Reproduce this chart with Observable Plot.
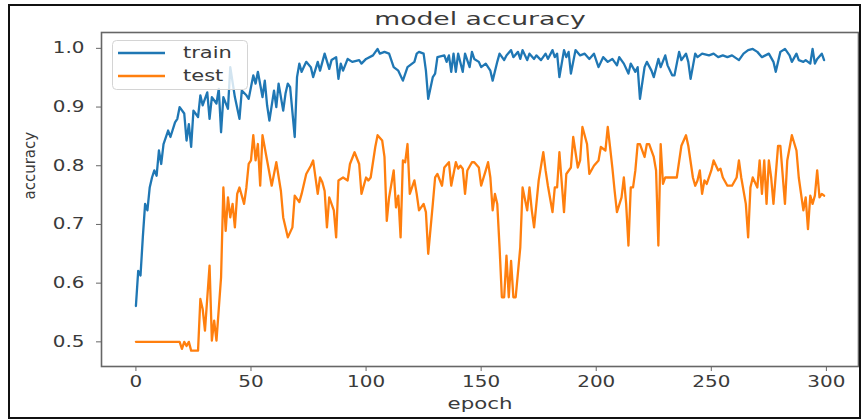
<!DOCTYPE html>
<html>
<head>
<meta charset="utf-8">
<script src="https://cdn.jsdelivr.net/npm/d3@7"></script>
<script src="https://cdn.jsdelivr.net/npm/@observablehq/plot@0.6"></script>
<style>
  html, body { margin: 0; padding: 0; background: #fff; }
  #wrap { position: relative; width: 861px; height: 419px; overflow: hidden; }
  #border { position: absolute; left: 8px; top: 4px; width: 849px; height: 411px; border: 2px solid #111; pointer-events: none; }
  #legend { position: absolute; left: 0; top: 0; pointer-events: none; }
</style>
</head>
<body>
<div id="wrap"><div id="border"></div></div>
<script>
const title = "model accuracy";
const xLabel = "epoch";
const yLabel = "accuracy";
const seriesNames = ["train", "test"];
const seriesColors = ["#1f77b4", "#ff7f0e"];
const xTicks = [0, 50, 100, 150, 200, 250, 300];
const yTicks = [0.5, 0.6, 0.7, 0.8, 0.9, 1.0];

const trainEpochs = [0,1,2,3,4,5,6,7,8,9,10,11,12,14,15,17,18,19,21,22,23,24,25,27,28,29,31,32,33,35,36,37,38,40,41,43,45,46,48,49,51,52,53,55,56,57,58,60,61,62,64,65,66,67,69,70,71,72,74,76,77,79,80,82,84,85,87,88,89,90,92,94,97,98,100,103,105,106,108,110,112,114,116,118,119,121,122,123,125,126,127,129,130,131,134,135,136,137,138,139,140,142,143,145,146,147,149,150,152,154,155,157,158,160,161,163,164,166,167,168,170,171,173,174,176,178,179,181,182,183,184,186,187,188,189,191,193,195,197,199,201,203,205,207,209,210,212,214,215,217,218,219,221,222,224,225,227,228,230,231,233,234,236,237,239,240,241,243,244,246,249,251,253,255,257,259,262,264,266,268,270,272,275,277,278,280,282,284,285,287,288,290,291,293,294,295,296,298,299];
const trainAcc = [0.561,0.621,0.613,0.678,0.735,0.724,0.763,0.780,0.792,0.783,0.826,0.803,0.837,0.860,0.849,0.874,0.880,0.900,0.889,0.843,0.871,0.832,0.894,0.883,0.920,0.903,0.925,0.880,0.917,0.906,0.931,0.857,0.917,0.897,0.968,0.917,0.880,0.928,0.920,0.914,0.954,0.940,0.960,0.917,0.945,0.903,0.877,0.928,0.900,0.940,0.894,0.923,0.940,0.934,0.849,0.951,0.974,0.960,0.977,0.968,0.951,0.977,0.962,0.991,0.965,0.980,0.985,0.948,0.974,0.962,0.982,0.977,0.980,0.974,0.982,0.988,0.999,0.991,0.994,0.991,0.968,0.962,0.945,0.968,0.971,0.977,0.991,0.994,0.991,0.962,0.914,0.951,0.957,0.985,0.988,0.977,0.988,0.960,0.991,0.960,0.991,0.960,0.991,0.968,0.994,0.982,0.977,0.968,0.974,0.962,0.945,0.977,0.991,0.980,0.988,0.997,0.985,0.994,0.982,0.997,0.980,0.991,0.982,0.988,0.980,0.991,0.982,0.997,0.985,0.991,0.951,0.997,0.985,0.994,0.957,0.997,0.988,0.991,0.982,0.991,0.968,0.985,0.977,0.982,0.971,0.985,0.974,0.957,0.974,0.960,0.968,0.914,0.968,0.977,0.962,0.951,0.982,0.968,0.988,0.971,0.954,0.954,0.994,0.980,0.991,0.977,0.948,0.991,0.985,0.991,0.988,0.991,0.985,0.988,0.985,0.988,0.980,0.991,0.997,0.999,0.994,0.985,0.991,0.977,0.960,0.994,0.999,0.988,0.977,0.991,0.980,0.977,0.980,0.974,0.999,0.974,0.982,0.991,0.980];

const testEpochs = [0,19,20,21,22,23,24,27,28,29,30,32,33,34,35,37,38,39,40,41,42,43,44,45,47,48,49,50,51,52,53,54,55,57,59,61,63,64,66,68,69,71,72,74,76,77,79,80,81,82,83,84,86,87,88,90,92,93,95,97,98,100,101,102,104,105,107,108,109,110,112,113,114,115,116,117,118,119,121,122,123,125,126,127,129,130,131,133,134,136,137,139,140,141,142,143,144,146,147,149,150,152,153,154,155,156,157,158,159,160,161,162,163,164,165,167,168,170,171,172,173,175,177,178,179,181,182,183,184,186,187,189,190,192,193,194,196,197,199,201,202,204,205,206,207,208,209,211,212,213,214,215,216,217,218,219,221,222,223,225,226,227,228,229,230,233,235,237,239,240,242,243,244,245,246,247,248,250,251,253,254,255,257,259,261,262,263,265,266,267,268,270,271,272,273,274,275,276,277,279,280,282,283,285,287,288,290,291,292,293,294,295,296,297,298,299];
const testAcc = [0.500,0.500,0.488,0.500,0.493,0.500,0.485,0.485,0.573,0.556,0.519,0.630,0.502,0.536,0.502,0.610,0.763,0.689,0.746,0.712,0.735,0.695,0.752,0.763,0.735,0.763,0.803,0.809,0.852,0.809,0.837,0.766,0.852,0.809,0.766,0.806,0.757,0.712,0.678,0.695,0.749,0.738,0.752,0.786,0.800,0.809,0.752,0.780,0.772,0.757,0.695,0.746,0.724,0.678,0.775,0.780,0.775,0.803,0.823,0.803,0.752,0.780,0.775,0.780,0.832,0.852,0.843,0.815,0.706,0.746,0.792,0.729,0.749,0.678,0.809,0.806,0.837,0.752,0.775,0.752,0.724,0.735,0.721,0.650,0.735,0.780,0.786,0.766,0.797,0.806,0.766,0.806,0.795,0.800,0.795,0.752,0.792,0.806,0.806,0.797,0.766,0.792,0.806,0.780,0.724,0.752,0.735,0.661,0.576,0.576,0.647,0.576,0.638,0.576,0.576,0.661,0.763,0.724,0.763,0.724,0.695,0.775,0.823,0.792,0.766,0.721,0.763,0.763,0.823,0.721,0.786,0.797,0.849,0.797,0.809,0.866,0.837,0.786,0.800,0.809,0.832,0.826,0.866,0.832,0.797,0.757,0.721,0.746,0.780,0.735,0.664,0.763,0.763,0.792,0.837,0.837,0.815,0.837,0.837,0.815,0.792,0.664,0.837,0.769,0.780,0.780,0.780,0.834,0.852,0.834,0.780,0.766,0.775,0.792,0.752,0.775,0.769,0.792,0.809,0.792,0.795,0.780,0.766,0.766,0.780,0.809,0.780,0.735,0.678,0.763,0.780,0.763,0.809,0.752,0.809,0.735,0.809,0.780,0.735,0.834,0.834,0.735,0.809,0.852,0.826,0.780,0.724,0.746,0.692,0.749,0.735,0.749,0.792,0.746,0.752,0.749];

const train = trainEpochs.map((e, i) => ({epoch: e, acc: trainAcc[i]}));
const test = testEpochs.map((e, i) => ({epoch: e, acc: testAcc[i]}));

const plot = Plot.plot({
  width: 861,
  height: 419,
  marginLeft: 101,
  marginRight: 3,
  marginTop: 32,
  marginBottom: 53,
  style: {fontFamily: "'DejaVu Sans', sans-serif", fontSize: "15px", color: "#3a3a3a", background: "transparent"},
  x: {domain: [-14.95, 313.95]},
  y: {domain: [0.458, 1.027]},
  marks: [
    Plot.axisX({ticks: xTicks, tickSize: 5, tickPadding: 5, label: null, stroke: "#666"}),
    Plot.axisY({ticks: yTicks, tickFormat: d => d.toFixed(1), tickSize: 5, tickPadding: 12, label: null, stroke: "#666"}),
    Plot.line(train, {x: "epoch", y: "acc", stroke: seriesColors[0], strokeWidth: 2.3}),
    Plot.line(test, {x: "epoch", y: "acc", stroke: seriesColors[1], strokeWidth: 2.3}),
    Plot.frame({stroke: "#666", strokeWidth: 1.6}),
    Plot.text([title], {frameAnchor: "top", dy: -13, lineAnchor: "middle", fontSize: 18, fill: "#3a3a3a", className: "ttl"}),
    Plot.text([xLabel], {frameAnchor: "bottom", dy: 38, lineAnchor: "middle", fill: "#3a3a3a", className: "xl"}),
    Plot.text([yLabel], {frameAnchor: "left", dx: -71, rotate: -90, lineAnchor: "middle", fill: "#3a3a3a"})
  ]
});

const wrap = document.getElementById("wrap");
wrap.insertBefore(plot, wrap.firstChild);

// legend overlay
const ns = "http://www.w3.org/2000/svg";
const leg = d3.select(wrap).append("svg").attr("id", "legend").attr("width", 861).attr("height", 419)
  .style("font-family", "'DejaVu Sans', sans-serif").style("font-size", "15px");
leg.append("rect").attr("x", 112.5).attr("y", 40.5).attr("width", 135).attr("height", 49).attr("rx", 4)
  .attr("fill", "#fff").attr("fill-opacity", 0.8).attr("stroke", "#d4d4d4");
seriesNames.forEach((name, i) => {
  const y = 53 + i * 23;
  leg.append("line").attr("x1", 118).attr("x2", 165).attr("y1", y).attr("y2", y)
    .attr("stroke", seriesColors[i]).attr("stroke-width", 2.3);
  leg.append("text").attr("x", 183).attr("y", y).attr("dy", "0.35em").attr("fill", "#3a3a3a")
    .attr("class", "legtxt").text(name);
});

// horizontal stretch of the text (the reference picture is stretched sideways)
function stretch(nodes, k) {
  nodes.forEach(n => {
    const L = n.getComputedTextLength();
    if (L > 0) {
      n.setAttribute("textLength", (L * k).toFixed(1));
      n.setAttribute("lengthAdjust", "spacingAndGlyphs");
    }
  });
}
stretch(Array.from(plot.querySelectorAll('g[aria-label="x-axis tick label"] text')), 1.33);
stretch(Array.from(plot.querySelectorAll('g[aria-label="y-axis tick label"] text')), 1.33);
stretch(Array.from(plot.querySelectorAll('g.ttl text, .ttl text')), 1.48);
stretch(Array.from(plot.querySelectorAll('g.xl text, .xl text')), 1.42);
stretch(Array.from(document.querySelectorAll('#legend text')), 1.4);
</script>
</body>
</html>
